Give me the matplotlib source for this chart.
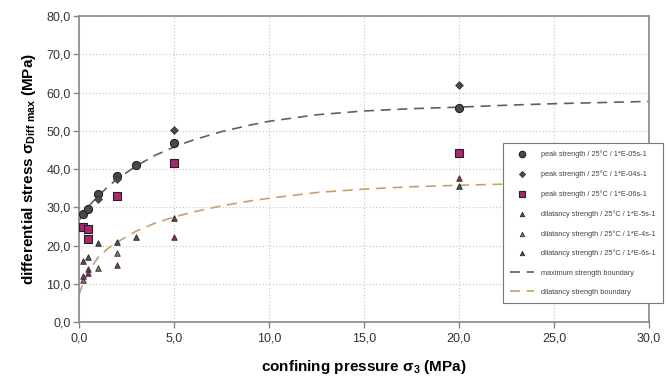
import matplotlib
matplotlib.use("Agg")
import matplotlib.pyplot as plt
from matplotlib.ticker import FuncFormatter, MultipleLocator

plt.rcParams['font.family'] = ['Liberation Sans', 'DejaVu Sans']

# peak strength 1E-05 (circles)
p05_x = [0.2, 0.5, 1.0, 2.0, 3.0, 5.0, 20.0]
p05_y = [28.4, 29.5, 33.5, 38.3, 41.2, 46.8, 56.1]
# peak strength 1E-04 (diamonds)
p04_x = [1.0, 2.0, 5.0, 20.0]
p04_y = [32.3, 37.3, 50.3, 62.1]
# peak strength 1E-06 (squares)
p06_x = [0.2, 0.5, 0.5, 2.0, 5.0, 20.0]
p06_y = [25.0, 24.3, 21.8, 32.9, 41.7, 44.3]
# dilatancy 1E-5
d5_x = [0.2, 0.5, 1.0, 2.0, 3.0, 5.0, 20.0]
d5_y = [16.0, 17.0, 20.7, 21.0, 22.3, 27.2, 35.5]
# dilatancy 1E-4
d4_x = [0.2, 1.0, 2.0]
d4_y = [11.1, 14.3, 18.0]
# dilatancy 1E-6
d6_x = [0.2, 0.5, 0.5, 2.0, 5.0, 20.0]
d6_y = [12.1, 14.0, 12.8, 14.9, 22.3, 37.6]

# boundaries
max_x = [0.0, 0.2, 0.5, 1.0, 1.5, 2.0, 3.0, 4.0, 5.0, 6.0, 7.5, 9.0, 10.0, 12.5, 15.0, 17.5, 20.0, 22.5, 25.0, 27.5, 30.0]
max_y = [26.5, 28.3, 30.3, 32.9, 35.3, 37.4, 40.8, 43.6, 45.8, 47.6, 49.8, 51.5, 52.5, 54.2, 55.2, 55.8, 56.2, 56.7, 57.1, 57.4, 57.7]
dil_x = [0.0, 0.2, 0.5, 1.0, 1.5, 2.0, 3.0, 4.0, 5.0, 6.0, 7.5, 9.0, 10.0, 12.5, 15.0, 17.5, 20.0, 22.5, 25.0, 27.5, 30.0]
dil_y = [7.2, 10.0, 13.2, 16.9, 19.2, 20.9, 23.8, 25.9, 27.5, 28.8, 30.4, 31.7, 32.4, 33.9, 34.8, 35.4, 35.8, 36.1, 36.3, 36.5, 36.7]

fig = plt.figure(figsize=(6.67, 3.76), dpi=100)
ax = fig.add_axes([0.1184, 0.1428, 0.8546, 0.8146])

ax.plot(max_x, max_y, ls=(0, (6, 4)), color='#606060', lw=1.2, label='maximum strength boundary', zorder=2)
ax.plot(dil_x, dil_y, ls=(0, (6, 4)), color='#c8a070', lw=1.2, label='dilatancy strength boundary', zorder=2)

ax.scatter(p05_x, p05_y, marker='o', s=34, c='#4a4a42', edgecolors='#222222', lw=0.8, label='peak strength / 25°C / 1*E-05s-1', zorder=4)
ax.scatter(p04_x, p04_y, marker='D', s=16, c='#4a4a42', edgecolors='#333333', lw=0.5, label='peak strength / 25°C / 1*E-04s-1', zorder=5)
ax.scatter(p06_x, p06_y, marker='s', s=26, c='#a8286e', edgecolors='#222222', lw=0.8, label='peak strength / 25°C / 1*E-06s-1', zorder=4)
ax.scatter(d5_x, d5_y, marker='^', s=16, c='#555550', edgecolors='#222222', lw=0.6, label='dilatancy strength / 25°C / 1*E-5s-1', zorder=4)
ax.scatter(d4_x, d4_y, marker='^', s=16, c='#777770', edgecolors='#333333', lw=0.6, label='dilatancy strength / 25°C / 1*E-4s-1', zorder=4)
ax.scatter(d6_x, d6_y, marker='^', s=16, c='#8a2a60', edgecolors='#333333', lw=0.6, label='dilatancy strength / 25°C / 1*E-6s-1', zorder=4)

ax.set_xlim(0, 30)
ax.set_ylim(0, 80)
ax.xaxis.set_major_locator(MultipleLocator(5))
ax.yaxis.set_major_locator(MultipleLocator(10))
fmt = FuncFormatter(lambda v, p: f"{v:.1f}".replace('.', ','))
ax.xaxis.set_major_formatter(fmt)
ax.yaxis.set_major_formatter(fmt)
ax.grid(True, ls=(0, (1, 2)), color='#c4c4c4', lw=0.8)
ax.set_axisbelow(True)
for s in ax.spines.values():
    s.set_color('#888888')
    s.set_linewidth(1.2)
ax.tick_params(axis='both', colors='#888888', labelcolor='#333333', labelsize=9, length=4, width=1, direction='out')
ax.tick_params(axis='x', pad=3)
ax.tick_params(axis='y', pad=2)

ax.set_xlabel(r'confining pressure $\mathregular{\sigma_3}$ (MPa)', fontsize=11, fontweight='bold', labelpad=10)
ax.set_ylabel(r'differential stress $\mathregular{\sigma_{Diff\ max}}$ (MPa)', fontsize=11, fontweight='bold', labelpad=6)

h, l = ax.get_legend_handles_labels()
order = [2, 3, 4, 5, 6, 7, 0, 1]
leg = ax.legend([h[i] for i in order], [l[i] for i in order], loc='upper left',
                bbox_to_anchor=(0.744, 0.585), fontsize=5.3, frameon=True, fancybox=False,
                edgecolor='#777777', framealpha=1, labelspacing=1.65, handlelength=3.2,
                markerscale=0.8, borderpad=1.0, handletextpad=1.0, borderaxespad=0)
leg.get_frame().set_linewidth(0.8)
leg.set_zorder(10)
for t in leg.get_texts():
    t.set_color('#444444')

fig.savefig('out.png', dpi=100)
